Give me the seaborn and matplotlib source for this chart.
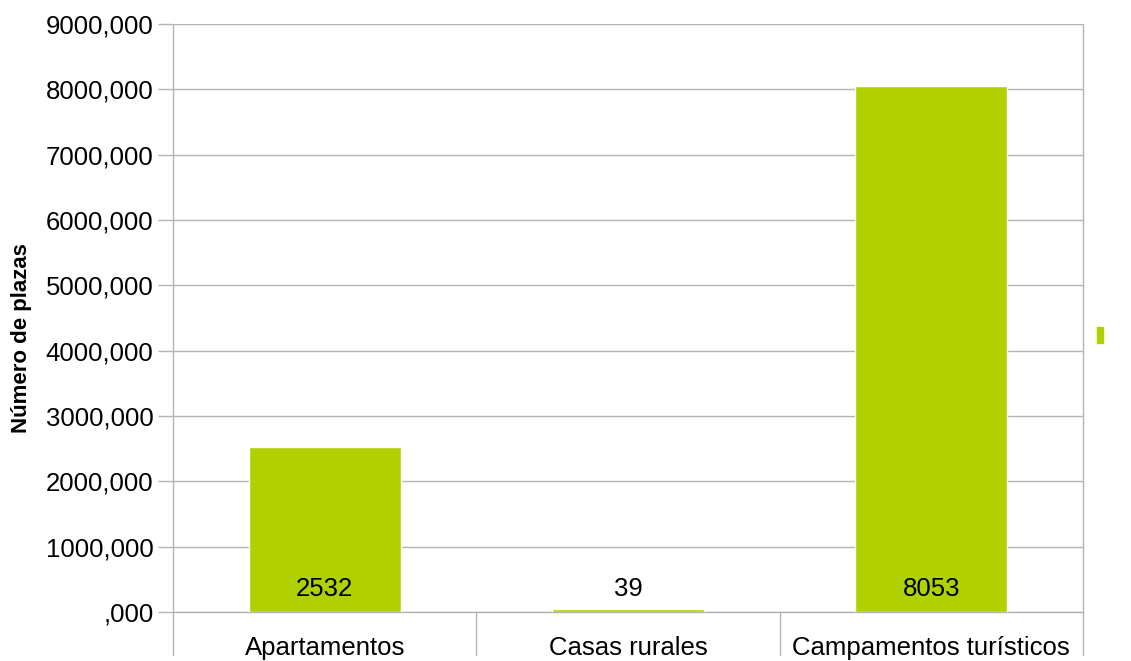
import pandas as pd
import seaborn as sns
import matplotlib.pyplot as plt
from matplotlib.patches import Rectangle
from matplotlib.ticker import FuncFormatter

# Datos del gráfico
categorias = ['Apartamentos', 'Casas rurales', 'Campamentos turísticos']
plazas = [2532, 39, 8053]
etiquetas = ['2532', '39', '8053']
y_ticks = [0, 1000, 2000, 3000, 4000, 5000, 6000, 7000, 8000, 9000]

df = pd.DataFrame({'categoria': categorias, 'plazas': plazas})

sns.set_style('white')
plt.rcParams['font.family'] = ['Liberation Sans', 'DejaVu Sans']
plt.rcParams['text.color'] = 'black'
plt.rcParams['axes.labelcolor'] = 'black'

W, H = 1131, 661
fig = plt.figure(figsize=(W / 100, H / 100), dpi=100)
ax = fig.add_axes([173 / W, 1 - 612 / H, (1083 - 173) / W, (612 - 24) / H])

verde = '#b0d000'
gris = '#b3b3b3'
sns.barplot(data=df, x='categoria', y='plazas', color=verde, width=0.5,
            saturation=1, ax=ax, zorder=3)

ax.set_xlim(-0.5, 2.5)
ax.set_ylim(0, 9000)
ax.set_yticks(y_ticks)
ax.yaxis.set_major_formatter(FuncFormatter(lambda v, p: f'{int(v)},000' if v else ',000'))
ax.grid(axis='y', color=gris, linewidth=1, zorder=0)
ax.grid(axis='x', visible=False)
for s in ax.spines.values():
    s.set_visible(False)
ax.axhline(0, color=gris, linewidth=1, clip_on=False, zorder=2)

ax.tick_params(axis='y', length=11, width=1, color=gris, labelsize=18.5,
               labelcolor='black', pad=3, left=True)
ax.tick_params(axis='x', length=0, labelsize=18.5, labelcolor='black', pad=17)

# eje izquierdo y derecho a toda altura, separadores solo bajo el eje
ext = (655 - 612) / (612 - 24)
for xb, top in [(-0.5, 1), (0.5, 0), (1.5, 0), (2.5, 1)]:
    ax.plot([xb, xb], [-ext, top], transform=ax.get_xaxis_transform(),
            color=gris, linewidth=1, clip_on=False, zorder=1)

# etiquetas de valores
for i, t in enumerate(etiquetas):
    ax.annotate(t, (i, 0), xytext=(0, 8), textcoords='offset points',
                ha='center', va='bottom', fontsize=18.5, color='black', zorder=4)

ax.set_xlabel('')
ax.set_ylabel('Número de plazas', fontsize=16, fontweight='bold')
ax.yaxis.set_label_coords(-141 / (1083 - 173), (612 - 338) / (612 - 24))

# marcador de leyenda
fig.patches.append(Rectangle((1097 / W, 1 - 343 / H), 6 / W, 16 / H,
                             transform=fig.transFigure, color=verde))

fig.savefig('out.png', dpi=100)
